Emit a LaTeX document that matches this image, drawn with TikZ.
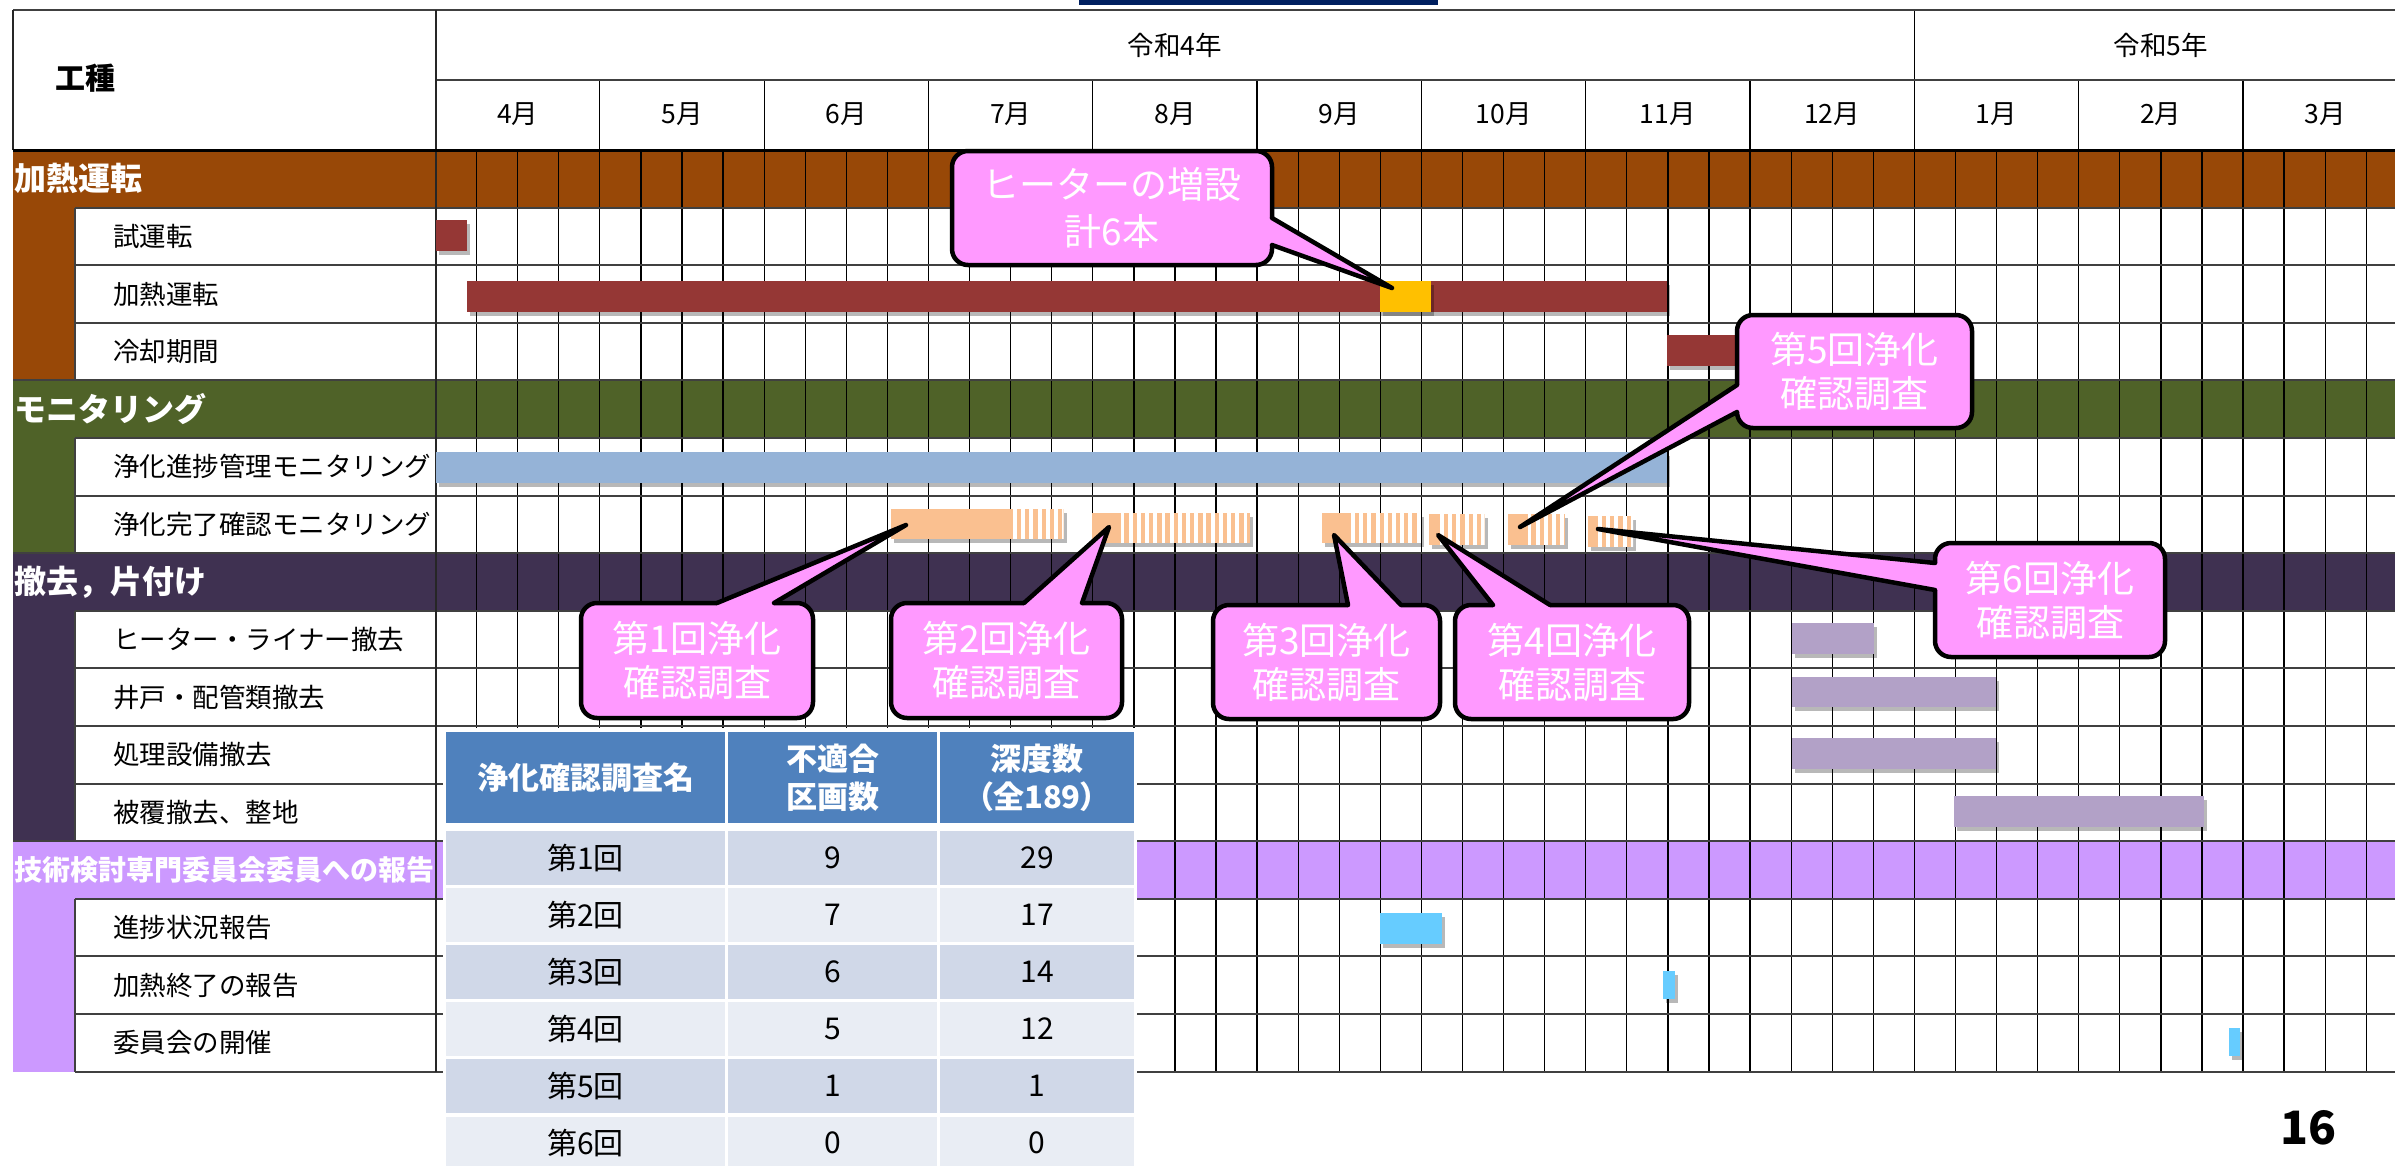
\documentclass[tikz,border=0pt]{standalone}
\usepackage{fontspec}
\setmainfont{Noto Sans CJK JP}
\newfontfamily\jpp{Noto Sans CJK JP}[RawFeature=+palt]
\usetikzlibrary{shadows}
\definecolor{catA}{HTML}{984807}
\definecolor{catB}{HTML}{4F6228}
\definecolor{catC}{HTML}{3F3151}
\definecolor{catD}{HTML}{CC99FF}
\definecolor{barRed}{HTML}{953735}
\definecolor{barYel}{HTML}{FFC000}
\definecolor{barBlue}{HTML}{95B3D7}
\definecolor{barOra}{HTML}{FAC090}
\definecolor{barPur}{HTML}{B2A1C7}
\definecolor{barCyan}{HTML}{66CCFF}
\definecolor{callPink}{HTML}{FF99FF}
\definecolor{tblHead}{HTML}{4F81BD}
\definecolor{tblDark}{HTML}{D0D8E8}
\definecolor{tblLight}{HTML}{E9EDF4}
\definecolor{navyTop}{HTML}{002060}
\definecolor{gridH}{HTML}{404040}
\newcommand{\stripebar}[4]{%
  \begin{scope}
    \clip (#1,#3) rectangle (#2,#4);
    \foreach \kk in {0,...,20}{\fill[white] ({#1+8.2*\kk},#3) rectangle ({#1+8.2*\kk+3.9},#4);}
  \end{scope}}
\begin{document}
\begin{tikzpicture}[x=1pt,y=-1pt,
  wk/.style={line width=1.3pt,black},
  hl/.style={line width=2pt,gridH},
  vl/.style={line width=2pt,black!85},
  cat/.style={anchor=west,inner sep=0pt,text=white,font=\bfseries\fontsize{32}{38}\selectfont},
  lbl/.style={anchor=west,inner sep=0pt,font=\fontsize{26.5}{32}\selectfont},
  hdr/.style={inner sep=0pt,font=\fontsize{26.5}{32}\selectfont},
  gbar/.style={drop shadow={shadow xshift=3pt,shadow yshift=-4pt,opacity=.28,fill=black}},
  callout/.style={draw=black,line width=4.5pt,fill=callPink,rounded corners=16pt,text=white,align=center,inner sep=0pt,font=\fontsize{37}{44}\selectfont},
  tail/.style={draw=black,line width=4.5pt,line join=round,line cap=round},
  tcell/.style={inner sep=0pt,minimum height=53.5pt,font=\fontsize{30}{36}\selectfont},
  thead/.style={inner sep=0pt,minimum height=91pt,fill=tblHead,text=white,align=center,font=\bfseries\fontsize{31}{38}\selectfont},
]
\useasboundingbox (0,0) rectangle (2395,1165);
\clip (0,0) rectangle (2395,1165);
\fill[white] (0,0) rectangle (2395,1165);
\fill[navyTop] (1079,0) rectangle (1438,5);

% category fills
\fill[catA] (13,150) rectangle (2395,207.6);
\fill[catA] (13,207.6) rectangle (75,380.4);
\fill[catB] (13,380.4) rectangle (2395,438);
\fill[catB] (13,438) rectangle (75,553.2);
\fill[catC] (13,553.2) rectangle (2395,610.8);
\fill[catC] (13,610.8) rectangle (75,841.2);
\fill[catD] (13,841.2) rectangle (2395,898.8);
\fill[catD] (13,898.8) rectangle (75,1071.6);

% grid
\foreach \k in {1,...,47}{
  \draw[wk] ({435.5+41.08*\k},150) -- ({435.5+41.08*\k},1071.6);
}
\foreach \k in {4,8,...,44}{
  \draw[wk] ({435.5+41.08*\k},80) -- ({435.5+41.08*\k},150);
}
\draw[wk] ({435.5+41.08*36},10) -- ({435.5+41.08*36},80);
\draw[hl] (13,10) -- (2395,10);
\draw[hl] (435.5,80) -- (2395,80);
\foreach \i in {1,2,3,5,6,8,9,10,11,13,14,15,16}{
  \draw[hl] (75,{150+57.6*\i}) -- (2395,{150+57.6*\i});
}
\foreach \i in {4,7,12}{
  \draw[hl] (13,{150+57.6*\i}) -- (2395,{150+57.6*\i});
}
\draw[hl] (75,207.6) -- (75,380.4);
\draw[hl] (75,438) -- (75,553.2);
\draw[hl] (75,610.8) -- (75,841.2);
\draw[hl] (75,898.8) -- (75,1071.6);
\draw[vl] (435.5,10) -- (435.5,1071.6);
\draw[vl] (13,10) -- (13,150);
\draw[line width=3pt,black] (13,150) -- (2395,150);

% header texts
\node[inner sep=0pt,font=\bfseries\fontsize{30}{36}\selectfont] (kousyu) at (85,78) {工種};
\node[hdr] (y4) at (1175,45) {令和4年};
\node[hdr] (y5) at (2161,45) {令和5年};
\foreach \m [count=\j from 0] in {4,5,6,7,8,9,10,11,12,1,2,3}{
  \node[hdr] (m\j) at ({435.5+164.32*(\j+0.5)},114) {\m{}月};
}

% row labels
\node[cat] (c0) at (14,178.8) {加熱運転};
\node[lbl] (l1) at (113,236.4) {試運転};
\node[lbl] (l2) at (113,294.0) {加熱運転};
\node[lbl] (l3) at (113,351.6) {冷却期間};
\node[cat] (c4) at (14,409.2) {モニタリング};
\node[lbl] (l5) at (113,466.8) {浄化進捗管理モニタリング};
\node[lbl] (l6) at (113,524.4) {浄化完了確認モニタリング};
\node[cat] (c7) at (14,582.0) {撤去，片付け};
\node[lbl] (l8) at (113,639.6) {ヒーター・ライナー撤去};
\node[lbl] (l9) at (113,697.2) {井戸・配管類撤去};
\node[lbl] (l10) at (113,754.8) {処理設備撤去};
\node[lbl] (l11) at (113,812.4) {被覆撤去、整地};
\node[cat,font=\bfseries\fontsize{28}{34}\selectfont] (c12) at (14,870.0) {技術検討専門委員会委員への報告};
\node[lbl] (l13) at (113,927.6) {進捗状況報告};
\node[lbl] (l14) at (113,985.2) {加熱終了の報告};
\node[lbl] (l15) at (113,1042.8) {委員会の開催};

% bars
\fill[barRed,gbar] (435.5,220) rectangle (466.5,251);
\fill[barRed,gbar] (466.5,281) rectangle (1667,312);
\fill[barYel,gbar] (1380,281) rectangle (1431,312);
\fill[barRed,gbar] (1667,335) rectangle (1750,365.5);
\fill[barBlue,gbar] (435.5,452) rectangle (1667,483);
\fill[barOra,gbar] (891,509) rectangle (1063.5,539);
\stripebar{1013}{1063.5}{509}{539}
\fill[barOra,gbar] (1092,513) rectangle (1250,543);
\stripebar{1120.5}{1250}{513}{543}
\fill[barOra,gbar] (1322,512.5) rectangle (1421,543);
\stripebar{1351}{1421}{512.5}{543}
\fill[barOra,gbar] (1429,514) rectangle (1484.5,545);
\stripebar{1440}{1484.5}{514}{545}
\fill[barOra,gbar] (1508,514) rectangle (1565,545);
\stripebar{1527.5}{1565}{514}{545}
\fill[barOra,gbar] (1588,516) rectangle (1633,547);
\stripebar{1598}{1633}{516}{547}
\fill[barPur,gbar] (1791.5,623) rectangle (1873.5,653.5);
\fill[barPur,gbar] (1791.5,676.5) rectangle (1996,707);
\fill[barPur,gbar] (1791.5,738) rectangle (1996,769);
\fill[barPur,gbar] (1954,796) rectangle (2204,827);
\fill[barCyan,gbar] (1380,913) rectangle (1442,944);
\fill[barCyan,gbar] (1663,971) rectangle (1675,999);
\fill[barCyan,gbar] (2229,1028) rectangle (2240,1056);

% summary table
\fill[white] (443,728) rectangle (1137,1165);
\node[thead,minimum width=279pt] (th1) at (585.5,777.5) {浄化確認調査名};
\node[thead,minimum width=209pt] (th2) at (832.5,777.5) {不適合\\区画数};
\node[thead,minimum width=194pt] (th3) at (1037,777.5) {深度数\\{\jpp （全189）}};
\foreach \k/\na/\nb/\col [evaluate=\k as \yy using {800.65+57.1*\k}] in
  {1/9/29/tblDark,2/7/17/tblLight,3/6/14/tblDark,4/5/12/tblLight,5/1/1/tblDark,6/0/0/tblLight}{
  \node[tcell,fill=\col,minimum width=279pt] (ra\k) at (585.5,\yy) {第\k 回};
  \node[tcell,fill=\col,minimum width=209pt] (rb\k) at (832.5,\yy) {\na};
  \node[tcell,fill=\col,minimum width=194pt] (rc\k) at (1037,\yy) {\nb};
}

% callouts
\node[callout,minimum width=320pt,minimum height=114pt,font=\fontsize{37}{47}\selectfont] (cH) at (1112,208) {ヒーターの増設\\計6本};
\coordinate (tH) at (1392,288);
\fill[callPink] (1272,218) -- (tH) -- (1272,245) -- (1262,245) -- (1262,218) -- cycle;
\draw[tail] (1272,218) -- (tH) -- (1272,245);

\node[callout,minimum width=232pt,minimum height=115pt] (k1) at (697,660.5) {第1回浄化\\確認調査};
\coordinate (t1) at (906,525);
\fill[callPink] (717,603) -- (t1) -- (774,603) -- (774,613) -- (717,613) -- cycle;
\draw[tail] (717,603) -- (t1) -- (774,603);

\node[callout,minimum width=231pt,minimum height=115pt] (k2) at (1006.5,660.5) {第2回浄化\\確認調査};
\coordinate (t2) at (1109,527);
\fill[callPink] (1024,603) -- (t2) -- (1082,603) -- (1082,613) -- (1024,613) -- cycle;
\draw[tail] (1024,603) -- (t2) -- (1082,603);

\node[callout,minimum width=227pt,minimum height=114pt] (k3) at (1326.5,662) {第3回浄化\\確認調査};
\coordinate (t3) at (1334,535);
\fill[callPink] (1348,605) -- (t3) -- (1401,605) -- (1401,615) -- (1348,615) -- cycle;
\draw[tail] (1348,605) -- (t3) -- (1401,605);

\node[callout,minimum width=234pt,minimum height=114pt] (k4) at (1572,662) {第4回浄化\\確認調査};
\coordinate (t4) at (1438,535);
\fill[callPink] (1493,605) -- (t4) -- (1550,605) -- (1550,615) -- (1493,615) -- cycle;
\draw[tail] (1493,605) -- (t4) -- (1550,605);

\node[callout,minimum width=235pt,minimum height=113pt] (k5) at (1854.5,371.5) {第5回浄化\\確認調査};
\coordinate (t5) at (1520,527);
\fill[callPink] (1737,385) -- (t5) -- (1737,412) -- (1747,412) -- (1747,385) -- cycle;
\draw[tail] (1737,385) -- (t5) -- (1737,412);

\node[callout,minimum width=230pt,minimum height=114pt] (k6) at (2050,600) {第6回浄化\\確認調査};
\coordinate (t6) at (1598,529);
\fill[callPink] (1935,563) -- (t6) -- (1935,590) -- (1945,590) -- (1945,563) -- cycle;
\draw[tail] (1935,563) -- (t6) -- (1935,590);

% page number
\node[inner sep=0pt,font=\bfseries\fontsize{46}{55}\selectfont] (pg) at (2308,1128) {16};
\end{tikzpicture}
\end{document}
